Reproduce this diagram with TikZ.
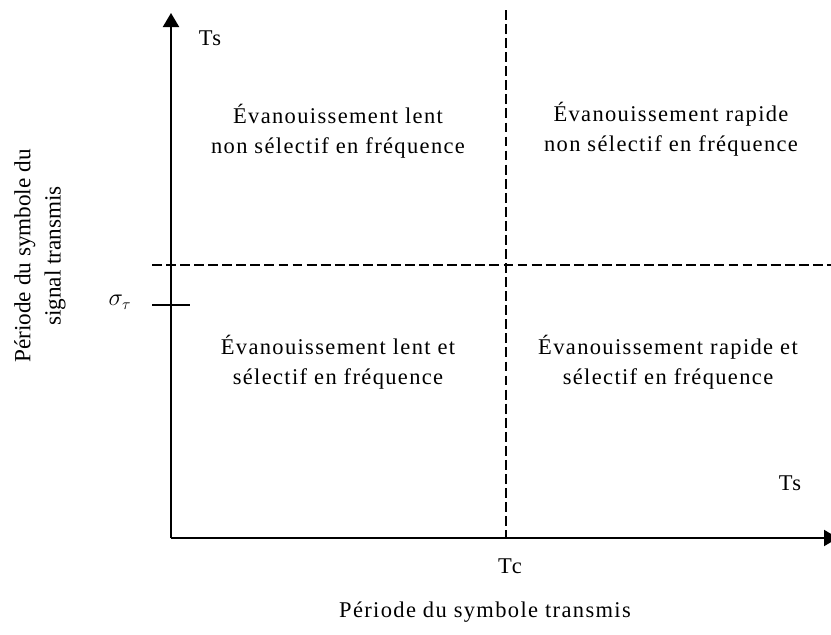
\documentclass[tikz,border=0pt]{standalone}
\usepackage{fontspec}
\setmainfont{Liberation Serif}
\usetikzlibrary{arrows.meta}

\begin{document}
\begin{tikzpicture}[
        x=0.025cm, y=-0.025cm,
        axe/.style={line width=1.4pt, -{Triangle[length=3.5mm, width=4mm]}},
        limite/.style={line width=1pt, dash pattern=on 7pt off 3pt},
        zone/.style={align=center, font=\fontsize{16}{21.5}\selectfont\addfontfeature{LetterSpace=6}},
        etiquette/.style={font=\fontsize{16}{21}\selectfont\addfontfeature{LetterSpace=6}},
        titre/.style={align=center, font=\fontsize{16.5}{21.5}\selectfont}
    ]
        \useasboundingbox (0,0) rectangle (831,634);

        % axes
        \coordinate (origine) at (171,538);
        \coordinate (haut) at (171,13);
        \coordinate (droite) at (838,538);
        \draw[axe] (origine) -- (haut);
        \draw[axe] (origine) -- (droite);

        % limites Tc et sigma
        \coordinate (tcH) at (506,10);
        \coordinate (tcB) at (506,538);
        \coordinate (sG) at (152,265);
        \coordinate (sD) at (831,265);
        \draw[limite] (tcH) -- (tcB);
        \draw[limite] (sG) -- (sD);

        % graduation sigma
        \coordinate (tickG) at (152,305);
        \coordinate (tickD) at (190,305);
        \draw[line width=1.4pt] (tickG) -- (tickD);

        \node[font=\fontsize{16}{20}\selectfont] (sigma) at (120,302) {$\sigma_{\tau}$};
        \node[etiquette] (tsY) at (210,38) {Ts};
        \node[etiquette] (tsX) at (790,483) {Ts};
        \node[etiquette] (tc) at (510,566) {Tc};

        \node[zone] (lentNS) at (338,131) {Évanouissement lent\\non sélectif en fréquence};
        \node[zone] (rapideNS) at (671,129) {Évanouissement rapide\\non sélectif en fréquence};
        \node[zone] (lentS) at (338,362) {Évanouissement lent et\\sélectif en fréquence};
        \node[zone] (rapideS) at (668,362) {Évanouissement rapide et\\sélectif en fréquence};

        \node[etiquette] (titreX) at (485,612) {Période du symbole transmis};
        \node[titre, rotate=90] (titreY) at (40,256) {Période du symbole du\\signal transmis};
    \end{tikzpicture}
\end{document}
